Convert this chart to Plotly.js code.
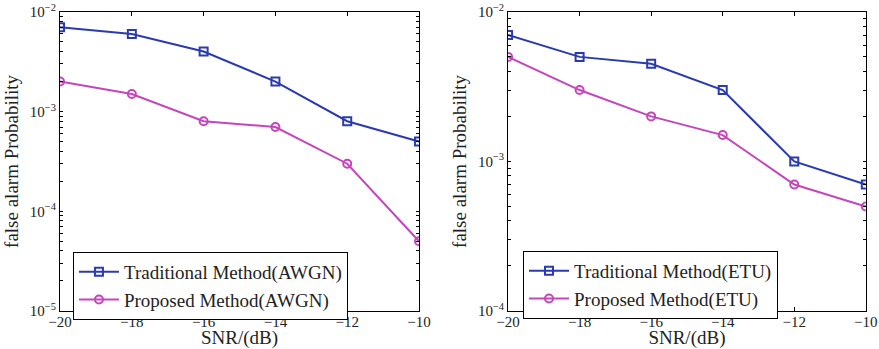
<!DOCTYPE html>
<html>
<head>
<meta charset="utf-8">
<script src="https://cdn.plot.ly/plotly-3.0.1.min.js"></script>
<style>html,body{margin:0;padding:0;background:#fff;}#chart{width:879px;height:349px;}</style>
</head>
<body>
<div id="chart"></div>
<script>
const snr = [-20, -18, -16, -14, -12, -10];
const tradAWGN = [7e-3, 6e-3, 4e-3, 2e-3, 8e-4, 5e-4];
const propAWGN = [2e-3, 1.5e-3, 8e-4, 7e-4, 3e-4, 5e-5];
const tradETU = [7e-3, 5e-3, 4.5e-3, 3e-3, 1e-3, 7e-4];
const propETU = [5e-3, 3e-3, 2e-3, 1.5e-3, 7e-4, 5e-4];
const xTicks = [-20, -18, -16, -14, -12, -10];
const yExpAWGN = [-5, -4, -3, -2];
const yExpETU = [-4, -3, -2];

const blue = '#2A3BAE';
const mag = '#C446BC';
const font = '"Liberation Serif", "Times New Roman", serif';

// major (decade) ticks with labels plus unlabeled minor ticks 2..9 within each decade
function logTicks(exps) {
  const vals = [], text = [];
  exps.forEach((e, i) => {
    vals.push(Math.pow(10, e));
    text.push('10<sup>\u2212' + Math.abs(e) + '</sup>');
    if (i < exps.length - 1) for (let m = 2; m <= 9; m++) { vals.push(m * Math.pow(10, e)); text.push(''); }
  });
  return {vals, text};
}

function tr(x, y, name, color, sym, xa, ya, leg) {
  return {x, y, name, type: 'scatter', mode: 'lines+markers', xaxis: xa, yaxis: ya, legend: leg,
    line: {color, width: 2}, marker: {symbol: sym, size: 8, color, line: {color, width: 2}}};
}
const data = [
  tr(snr, tradAWGN, 'Traditional Method(AWGN)', blue, 'square-open', 'x', 'y', 'legend'),
  tr(snr, propAWGN, 'Proposed Method(AWGN)', mag, 'circle-open', 'x', 'y', 'legend'),
  tr(snr, tradETU, 'Traditional Method(ETU)', blue, 'square-open', 'x2', 'y2', 'legend2'),
  tr(snr, propETU, 'Proposed Method(ETU)', mag, 'circle-open', 'x2', 'y2', 'legend2')
];

function xax(dom, anchor) {
  return {domain: dom, anchor, range: [-20, -10], tickvals: xTicks, ticks: 'inside', ticklen: 4,
    showline: true, mirror: 'ticks', linecolor: '#000', linewidth: 1, tickcolor: '#000', showgrid: false, zeroline: false,
    ticklabeloverflow: 'allow', ticklabelstandoff: -3, tickfont: {family: font, size: 15, color: '#222'},
    title: {text: 'SNR/(dB)', font: {family: font, size: 19, color: '#222'}, standoff: 1}};
}
function yax(exps, anchor) {
  const t = logTicks(exps);
  return {domain: [0.109, 0.966], anchor, type: 'log', range: [exps[0], exps[exps.length - 1]],
    tickmode: 'array', tickvals: t.vals, ticktext: t.text,
    ticks: 'inside', ticklen: 3, showline: true, mirror: 'ticks', linecolor: '#000', linewidth: 1, tickcolor: '#000',
    showgrid: false, zeroline: false, ticklabeloverflow: 'allow',
    tickfont: {family: font, size: 15, color: '#222'},
    title: {text: 'false alarm Probability', font: {family: font, size: 19, color: '#222'}, standoff: 6}};
}
const legStyle = {bgcolor: '#fff', bordercolor: '#000', borderwidth: 1,
  font: {family: font, size: 19, color: '#222'}, tracegroupgap: 0, itemwidth: 40};

const layout = {
  width: 879, height: 349, margin: {l: 0, r: 0, t: 0, b: 0},
  paper_bgcolor: '#fff', plot_bgcolor: '#fff', showlegend: true,
  xaxis: xax([0.0683, 0.4767], 'y'),
  yaxis: yax(yExpAWGN, 'x'),
  xaxis2: xax([0.578, 0.985], 'y2'),
  yaxis2: yax(yExpETU, 'x2'),
  legend: Object.assign({x: 0.083, y: 0.278, xanchor: 'left', yanchor: 'top'}, legStyle),
  legend2: Object.assign({x: 0.595, y: 0.281, xanchor: 'left', yanchor: 'top'}, legStyle)
};
Plotly.newPlot('chart', data, layout, {staticPlot: true});
</script>
</body>
</html>
